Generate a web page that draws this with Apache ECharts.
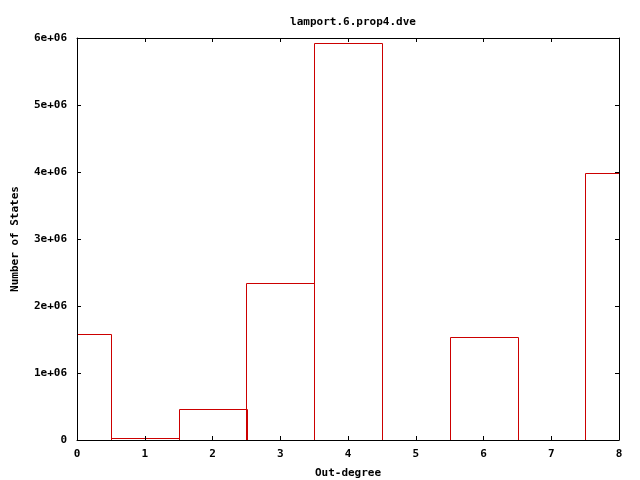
<!DOCTYPE html>
<html><head><meta charset="utf-8">
<script src="https://cdn.jsdelivr.net/npm/echarts@6/dist/echarts.min.js"></script>
<style>html,body{margin:0;padding:0;background:#fff}#c{width:640px;height:480px}</style>
</head><body><div id="c"></div>
<script>
const titleText = 'lamport.6.prop4.dve';
const xName = 'Out-degree';
const yName = 'Number of States';
const outDegree = [0, 1, 2, 3, 4, 5, 6, 7, 8];
const numStates = [1580000, 30000, 465000, 2340000, 5930000, 0, 1540000, 0, 3980000];

const font = 'DejaVu Sans Mono';
const txt = {fontFamily: font, fontSize: 11, fontWeight: 'bold', color: '#000'};
const red = '#cc0000';

const chart = echarts.init(document.getElementById('c'), null, {renderer: 'canvas'});
const axisCommon = {
  min: 0, z: 5,
  axisLine: {show: true, onZero: false, lineStyle: {color: '#000', width: 1}},
  axisTick: {show: true, inside: true, length: 4, lineStyle: {color: '#000'}},
  splitLine: {show: false}
};
chart.setOption({
  animation: false,
  backgroundColor: '#fff',
  title: {text: titleText, left: 348, top: 12, textAlign: 'center',
    textStyle: Object.assign({}, txt)},
  grid: {left: 77, right: 21, top: 38, bottom: 40, show: false, containLabel: false, outerBoundsMode: 'none'},
  xAxis: [
    Object.assign({}, axisCommon, {type: 'value', max: 8, interval: 1, position: 'bottom',
      name: xName, nameLocation: 'middle', nameGap: 28, nameTextStyle: txt,
      axisLabel: Object.assign({margin: 9}, txt)}),
    Object.assign({}, axisCommon, {type: 'value', max: 8, interval: 1, position: 'top',
      axisLabel: {show: false}})
  ],
  yAxis: [
    Object.assign({}, axisCommon, {type: 'value', max: 6000000, interval: 1000000, position: 'left',
      name: yName, nameLocation: 'middle', nameGap: 56, nameTextStyle: txt,
      axisLabel: Object.assign({margin: 10, formatter: v => v === 0 ? '0' : (v / 1e6) + 'e+06'}, txt)}),
    Object.assign({}, axisCommon, {type: 'value', max: 6000000, interval: 1000000, position: 'right',
      axisLabel: {show: false}})
  ],
  series: [{
    type: 'custom',
    xAxisIndex: 0, yAxisIndex: 0,
    clip: true,
    data: outDegree.map((x, i) => [x, numStates[i]]),
    renderItem: function (params, api) {
      const x = api.value(0), y = api.value(1);
      const p1 = api.coord([x - 0.5, y]);
      const p2 = api.coord([x + 0.5, 0]);
      return {type: 'rect',
        shape: {x: Math.round(p1[0]) + 0.5, y: Math.round(p1[1]) + 0.5,
          width: Math.round(p2[0] - p1[0]), height: Math.round(p2[1] - p1[1])},
        style: {fill: 'none', stroke: red, lineWidth: 1}};
    },
    z: 1
  }]
});
</script></body></html>
